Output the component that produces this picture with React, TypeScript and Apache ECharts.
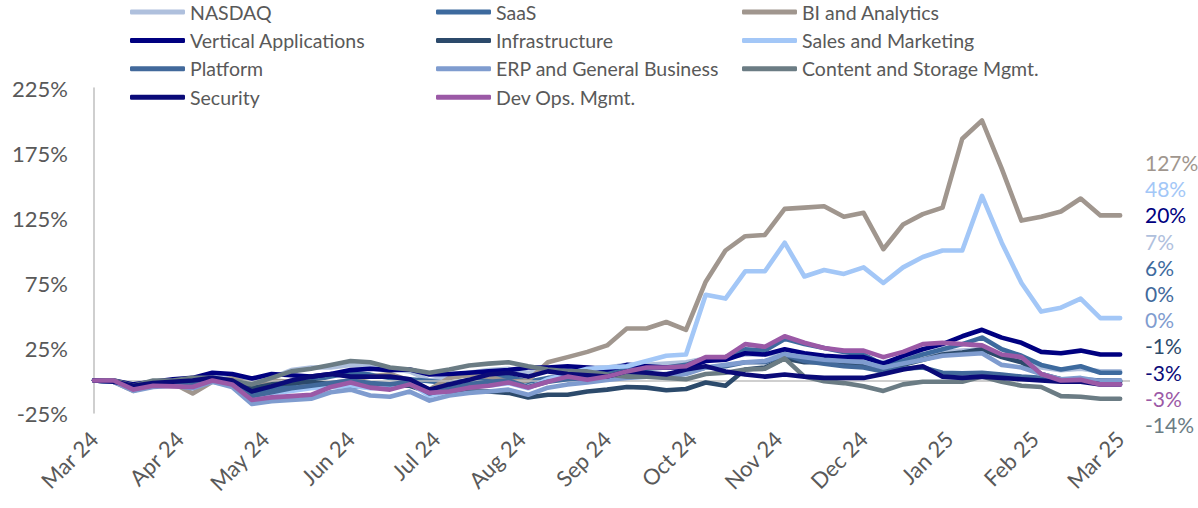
import React, { useEffect, useRef } from "react";
import * as echarts from "echarts";

const monthLabels = ["Mar 24", "Apr 24", "May 24", "Jun 24", "Jul 24", "Aug 24", "Sep 24", "Oct 24", "Nov 24", "Dec 24", "Jan 25", "Feb 25", "Mar 25"];
const yTicks = [-25, 25, 75, 125, 175, 225];

const nasdaq = [0,-1,-4,-1,0,1,4,3,-2,2,8,10,10,12,11,9,7,0,3,6,8,9,6,8,9,10,10,12,12,13,14,17,18,20,20,21,19,18,17,16,14,17,20,22,23,24,19,15,10,8,9,7,7];
const saas = [0,-1,-5,-2,-2,-4,0,-2,-10,-6,-3,0,3,6,4.5,2,1,-0.5,-2,0,2,3,-1,2,3,5,6,8,9,10,12,17,18,24,23,32,28,25,22,20,12,15,20,24,28,33,24,19,12,8.5,11,6,6];
const bi = [0,-1,-8,-3,-2,-10,-1,2,-3,0,-1,-2,-2,0,3,5,0,-7,2,4,3,-1,0,14,18,22,27,40,40,45,39,76,100,111,112,132,133,134,126,129,101,120,128,133,186,200,163,123,126,130,140,127,127];
const vertical = [0,0,-3,-1,1,2,6,5,1.5,5,4,3,5,8,9,8,8.5,4.6,5,6,7,8,10,10,11,10,8.5,12,11,10,10,15,16,21,20,24,21,19,18,18,13,19,24,28,34,39,33,29,22,21,23,20,20];
const infra = [0,-1,-5,-2,-2,-3,1,-1,-6,-3,-2,-1,-3,-4.5,-5,-4,-4,-9,-8,-8.5,-8.5,-9.5,-13,-11,-11,-8.5,-7,-5,-5.5,-7.5,-6.5,-1.5,-4,8.5,10,17,14,14,12.5,11,10,12,16,20,21.5,24,18,14,5,1,0,-1,-1];
const sales = [0,-1,-5,-3,-2,-3,-1,-4,-12,-10,-8,-6,-5,-4,-6,-5,-2,-12,-8,-5,-4,-2,-6,1,5,9,10,11,15,19,20,66,63,84,84,106,80,85,82,87,75,87,95,100,100,142,106,75,53,56,63,48,48];
const platform = [0,-1,-6,-3,-2,-3,0,-3,-12,-9,-6,-4,-2,0,-2,-3,-1,-10,-6,-3,-1,0,-5,-1,1,2,3,4,4,5,6,10,11,14,14,20,15,13,11,10,7,9,10,6,5.5,6,4.6,3,2,1,1,0,0];
const erp = [0,-1,-8,-5,-4,-6,-1,-5,-18,-16,-15,-14,-9,-7,-11.5,-12.5,-8.5,-15.5,-11.5,-9.5,-8.5,-7,-11,-5.5,-3,-1.5,0.5,2,3,3,5,10,12,14,15,20,18,16,15,14,10,13,16,19,20,21,12,10,5,1,2,-0.5,0];
const content = [0,0,-4,0,0,2,2,0,-3,2,7,9,12,15,14,10,8.5,6,8.5,11.5,13,14,11,8.5,7,7,4.6,3,3,2,1,5,6,8.5,9,17,3,-0.5,-2,-4.5,-8,-3,-1,-1,-1,3,-1,-4,-5,-12,-12.5,-14,-14];
const security = [0,-1,-4,-2,-1,0,2,0,-8.5,-4.5,0,3,5,3,3,3,1,-7,-3,0.5,4.6,6,3,7,5,4,3,7,6,4.6,8.5,11,7,4.6,3,4.6,3,2,2,2,5,8.5,11,3,2,3,2,1,0,-1,-1,-3,-3];
const devops = [0,0,-7,-4,-4.5,-5,0,-3,-15,-13,-12,-11,-5,-1.5,-5.5,-7,-3,-9.5,-8.5,-5.5,-4,-1.5,-5.5,-1,3,0.5,3,7,10,10,11,18,18,28,26,34,29,25,23,23,18,22,28,29,28,27,20,18,5,0,0.5,-3,-3];

const seriesNames = ["NASDAQ", "SaaS", "BI and Analytics", "Vertical Applications", "Infrastructure", "Sales and Marketing", "Platform", "ERP and General Business", "Content and Storage Mgmt.", "Security", "Dev Ops. Mgmt."];
const seriesValues = [nasdaq, saas, bi, vertical, infra, sales, platform, erp, content, security, devops];
const seriesColors = ["#AFC0DD", "#3D6A9E", "#A0968E", "#000080", "#2C4A6B", "#A3C7F7", "#42699B", "#7F9CCF", "#6B7C84", "#0A0A78", "#9B59A6"];

const legendCols = [
  ["NASDAQ", "Vertical Applications", "Platform", "Security"],
  ["SaaS", "Infrastructure", "ERP and General Business", "Dev Ops. Mgmt."],
  ["BI and Analytics", "Sales and Marketing", "Content and Storage Mgmt."],
];

export default function App() {
  const ref = useRef<HTMLDivElement>(null);
  useEffect(() => {
    if (!ref.current) return;
    const chart = echarts.init(ref.current, null, { renderer: "svg" });
    const nPts = nasdaq.length;
    const lastIdx = nPts - 1;
    const monthPos = monthLabels.map((_, k) => (k * lastIdx) / 12);
    const font = "Lato, 'Open Sans', sans-serif";
    const textColor = "#595959";

    const series: any[] = seriesNames.map((name, si) => ({
      name,
      type: "line",
      data: seriesValues[si].map((v, i) => [i, v]),
      symbol: "none",
      lineStyle: { width: 4.6, color: seriesColors[si], cap: "round", join: "round" },
      itemStyle: { color: seriesColors[si] },
      z: 2 + si,
      ...(si === 0
        ? {
            markLine: {
              silent: true,
              symbol: "none",
              label: { show: false },
              lineStyle: { color: "#BFBFBF", width: 1.5, type: "solid" },
              data: [{ yAxis: 0 }],
            },
          }
        : {}),
    }));

    const order = seriesNames
      .map((n, si) => ({ si, last: seriesValues[si][lastIdx] }))
      .sort((a, b) => b.last - a.last || a.si - b.si);
    const labelGraphics = order.map((o, k) => ({
      type: "text",
      left: 1145,
      top: 163 + k * 26.2 - 11,
      style: {
        text: `${Math.round(o.last)}%`,
        fill: seriesColors[o.si],
        font: `21px ${font}`,
      },
    }));

    const legendLefts = [130, 436, 742];
    const legends = legendCols.map((col, c) => ({
      orient: "vertical",
      left: legendLefts[c],
      top: 2,
      padding: 0,
      itemGap: 8.4,
      itemWidth: 55,
      itemHeight: 5,
      icon: "roundRect",
      data: col,
      textStyle: { color: textColor, fontSize: 19.5, fontFamily: font, lineHeight: 20 },
      selectedMode: false,
    }));

    chart.setOption({
      animation: false,
      backgroundColor: "#ffffff",
      legend: legends,
      grid: { left: 94, right: 68, top: 88, bottom: 95 },
      xAxis: {
        type: "value",
        min: 0,
        max: lastIdx + 0.5,
        axisLine: { show: false },
        axisTick: { show: false },
        splitLine: { show: false },
        axisLabel: {
          customValues: monthPos,
          rotate: 45,
          margin: 22,
          color: textColor,
          fontSize: 22,
          fontFamily: font,
          formatter: (v: number) => monthLabels[Math.round((v * 12) / lastIdx)] ?? "",
        },
      },
      yAxis: {
        type: "value",
        min: -25,
        max: 225,
        axisLine: { show: true, lineStyle: { color: "#BFBFBF", width: 1.5 } },
        axisTick: { show: false, customValues: yTicks },
        splitLine: { show: false },
        axisLabel: {
          customValues: yTicks,
          margin: 26,
          color: textColor,
          fontSize: 22,
          fontFamily: font,
          formatter: "{value}%",
        },
      },
      graphic: labelGraphics,
      series,
    });
    return () => chart.dispose();
  }, []);
  return <div ref={ref} style={{ position: "fixed", left: 0, top: 0, width: 1198, height: 508 }} />;
}
